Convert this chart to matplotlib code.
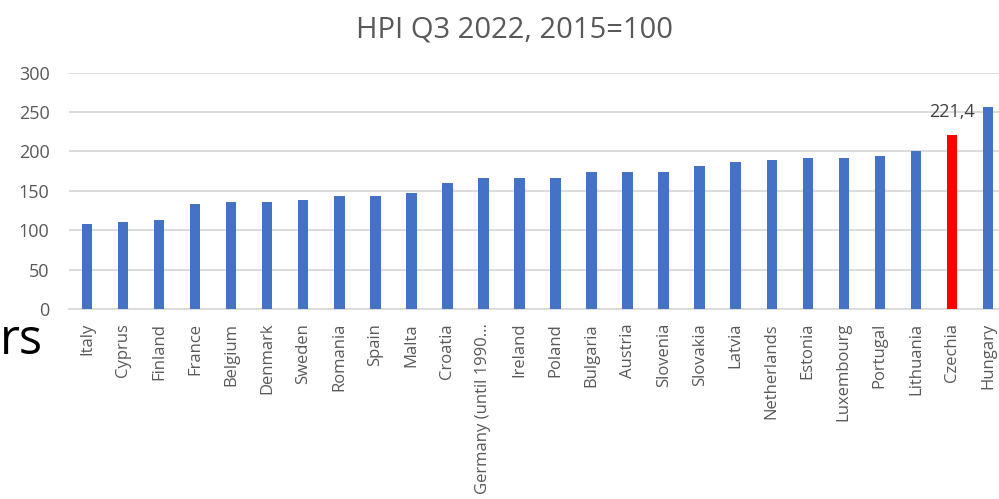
import matplotlib
matplotlib.use("Agg")
import matplotlib.pyplot as plt

countries = ["Italy", "Cyprus", "Finland", "France", "Belgium", "Denmark", "Sweden",
             "Romania", "Spain", "Malta", "Croatia", "Germany (until 1990...", "Ireland",
             "Poland", "Bulgaria", "Austria", "Slovenia", "Slovakia", "Latvia",
             "Netherlands", "Estonia", "Luxembourg", "Portugal", "Lithuania", "Czechia",
             "Hungary"]
hpi = [108, 111, 113, 133, 135.5, 136, 138.5, 144, 144, 147, 160.5, 166, 166,
       166, 174.5, 174.5, 174.5, 181, 186, 189, 191.5, 191.5, 194.5, 200, 221.4, 256]
highlight = "Czechia"
highlight_label = "221,4"
yticks = [0, 50, 100, 150, 200, 250, 300]
title = "HPI Q3 2022, 2015=100"

BLUE = "#4472C4"
RED = "#FF0000"
GREY_TXT = "#595959"

plt.rcParams["font.family"] = ["Open Sans", "DejaVu Sans"]

fig = plt.figure(figsize=(9.99, 4.99), dpi=100)
W, H = 999, 499
left_px, right_px = 69, 1006
bottom_px, top_px = 309, 72.7
ax = fig.add_axes([left_px / W, (H - bottom_px) / H,
                   (right_px - left_px) / W, (bottom_px - top_px) / H])

x = list(range(len(countries)))
colors = [RED if c == highlight else BLUE for c in countries]
ax.bar(x, hpi, width=0.29, color=colors, zorder=3)

ax.set_xlim(-0.5, len(countries) - 0.5)
ax.set_ylim(0, 300)
ax.set_yticks(yticks)
ax.yaxis.grid(True, color="#D9D9D9", linewidth=1.3, zorder=0)
ax.set_axisbelow(True)
for s in ["top", "right", "left"]:
    ax.spines[s].set_visible(False)
ax.spines["bottom"].set_color("#D9D9D9")
ax.spines["bottom"].set_linewidth(1.3)

ax.set_xticks(x)
ax.set_xticklabels(countries, rotation=90, fontsize=12, color=GREY_TXT, va="top")
ax.tick_params(axis="x", length=0, pad=10)
ax.tick_params(axis="y", length=0, pad=14, labelsize=13, labelcolor=GREY_TXT)

i = countries.index(highlight)
ax.annotate(highlight_label, (i, hpi[i]), xytext=(0, 10), textcoords="offset points",
            ha="center", va="bottom", fontsize=13, color="#404040")

fig.text(515 / W, (H - 30) / H, title, ha="center", va="center",
         fontsize=21, color=GREY_TXT)

fig.text(0, (H - 354) / H, "rs", ha="left", va="baseline",
         fontsize=35, color="black")

fig.savefig("out.png", dpi=100)
